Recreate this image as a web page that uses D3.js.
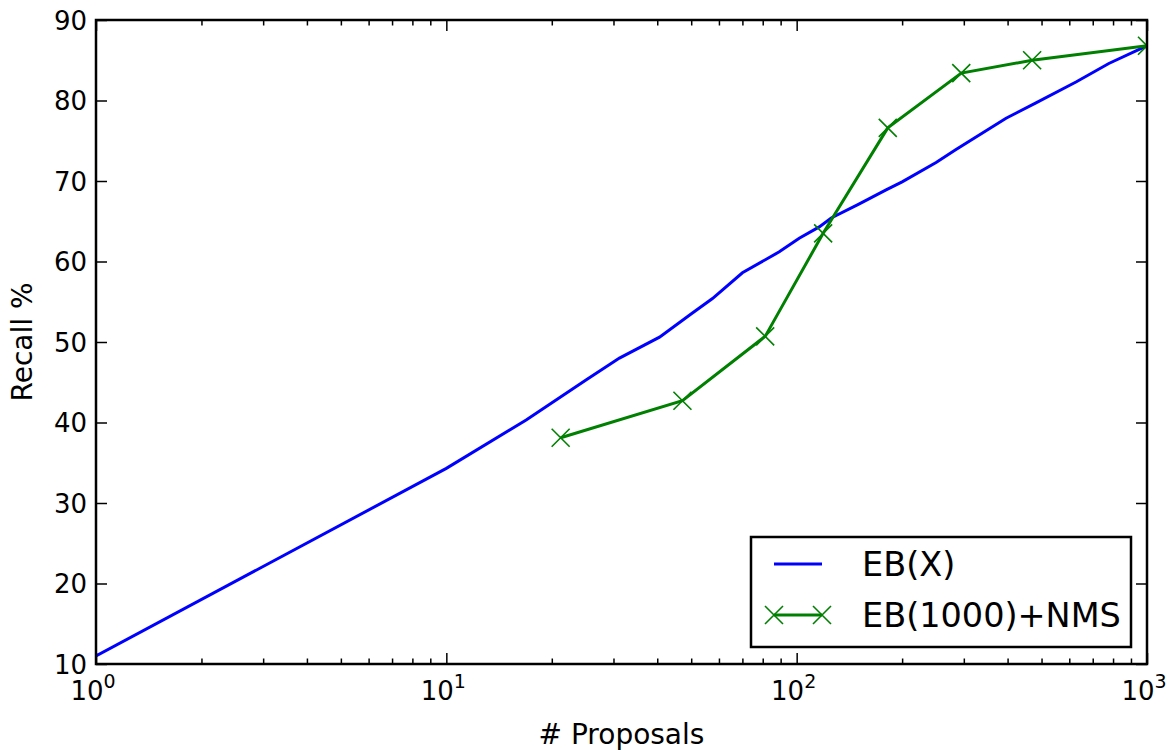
<!DOCTYPE html>
<html>
<head>
<meta charset="utf-8">
<script src="https://cdn.jsdelivr.net/npm/d3@7"></script>
<style>
  body { margin: 0; background: #fff; }
  svg { font-family: "DejaVu Sans", sans-serif; }
</style>
</head>
<body>
<svg width="1174" height="750"></svg>
<script>
// **** Data ****

var ebxProposals = [1, 10, 16.9, 25.1, 31.2, 40.6, 50.4, 57.5, 70, 89.2, 101.7, 116, 125.5, 150, 180, 200, 250, 285, 396, 482, 627, 778, 967, 1000];
var ebxRecall = [11.0, 34.3, 40.3, 45.3, 48.0, 50.6, 53.6, 55.4, 58.6, 61.2, 62.9, 64.3, 65.4, 67.1, 68.9, 69.9, 72.3, 73.9, 77.8, 79.7, 82.3, 84.6, 86.5, 86.8];

var nmsProposals = [21.2, 47.2, 81.3, 119, 182, 295, 470, 1000];
var nmsRecall = [38.1, 42.7, 50.7, 63.5, 76.6, 83.4, 85.0, 86.8];

var xMajorTicks = [1, 10, 100, 1000];
var xTickExponents = ["0", "1", "2", "3"];
var yTicks = [10, 20, 30, 40, 50, 60, 70, 80, 90];

var seriesNames = ["EB(X)", "EB(1000)+NMS"];
var seriesColors = ["#0000ff", "#008000"];

// **** Scales ****

var plotLeft = 96, plotRight = 1147, plotTop = 20, plotBottom = 664;

var xScale = d3.scaleLog().domain([1, 1000]).range([plotLeft, plotRight]);
var yScale = d3.scaleLinear().domain([10, 90]).range([plotBottom, plotTop]);

var xMinorTicks = [];
[1, 10, 100].forEach(function(d) {
    for (var k = 2; k <= 9; k++) xMinorTicks.push(d * k);
});

var svg = d3.select('svg');

// **** Axes (ticks point inward, on all four sides) ****

function styleAxis(g) {
    g.select('.domain').remove();
    g.selectAll('.tick line').attr('stroke', '#000').attr('stroke-width', 1.5);
}

svg.append('g').attr('transform', `translate(0,${plotBottom})`)
    .call(d3.axisBottom(xScale).tickValues(xMajorTicks).tickSize(-11).tickFormat(''))
    .call(styleAxis);
svg.append('g').attr('transform', `translate(0,${plotBottom})`)
    .call(d3.axisBottom(xScale).tickValues(xMinorTicks).tickSize(-5.5).tickFormat(''))
    .call(styleAxis);
svg.append('g').attr('transform', `translate(0,${plotTop})`)
    .call(d3.axisTop(xScale).tickValues(xMajorTicks).tickSize(-11).tickFormat(''))
    .call(styleAxis);
svg.append('g').attr('transform', `translate(0,${plotTop})`)
    .call(d3.axisTop(xScale).tickValues(xMinorTicks).tickSize(-5.5).tickFormat(''))
    .call(styleAxis);
svg.append('g').attr('transform', `translate(${plotLeft},0)`)
    .call(d3.axisLeft(yScale).tickValues(yTicks).tickSize(-11).tickFormat(''))
    .call(styleAxis);
svg.append('g').attr('transform', `translate(${plotRight},0)`)
    .call(d3.axisRight(yScale).tickValues(yTicks).tickSize(-11).tickFormat(''))
    .call(styleAxis);

// tick labels
svg.append('g').selectAll('text')
    .data(yTicks)
    .enter().append('text')
    .attr('x', plotLeft - 9)
    .attr('y', d => yScale(d) + 9.5)
    .attr('text-anchor', 'end')
    .style('font-size', '26px')
    .text(d => d);

var xLabels = svg.append('g').selectAll('text')
    .data(xMajorTicks)
    .enter().append('text')
    .attr('x', d => xScale(d) - 3)
    .attr('y', 700)
    .attr('text-anchor', 'middle')
    .style('font-size', '26px');
xLabels.append('tspan').text('10');
xLabels.append('tspan')
    .attr('dy', -12)
    .style('font-size', '19px')
    .text((d, i) => xTickExponents[i]);

svg.append('text')
    .attr('x', (plotLeft + plotRight) / 2)
    .attr('y', 744)
    .attr('text-anchor', 'middle')
    .style('font-size', '28px')
    .text('# Proposals');

svg.append('text')
    .attr('transform', 'translate(32,342) rotate(-90)')
    .attr('text-anchor', 'middle')
    .style('font-size', '28px')
    .text('Recall %');

// **** Lines ****

svg.append('clipPath').attr('id', 'plot-clip')
    .append('rect')
    .attr('x', plotLeft).attr('y', plotTop)
    .attr('width', plotRight - plotLeft).attr('height', plotBottom - plotTop);

var plot = svg.append('g').attr('clip-path', 'url(#plot-clip)');

var line = d3.line()
    .x(d => xScale(d[0]))
    .y(d => yScale(d[1]));

var ebx = ebxProposals.map((p, i) => [p, ebxRecall[i]]);
var nms = nmsProposals.map((p, i) => [p, nmsRecall[i]]);

plot.append('path')
    .datum(ebx)
    .attr('d', line)
    .attr('fill', 'none')
    .attr('stroke', seriesColors[0])
    .attr('stroke-width', 3);

plot.append('path')
    .datum(nms)
    .attr('d', line)
    .attr('fill', 'none')
    .attr('stroke', seriesColors[1])
    .attr('stroke-width', 3);

var xMarker = 'M-9,-9L9,9M-9,9L9,-9';

plot.selectAll('.marker')
    .data(nms)
    .enter().append('path')
    .attr('class', 'marker')
    .attr('transform', d => `translate(${xScale(d[0])},${yScale(d[1])})`)
    .attr('d', xMarker)
    .attr('stroke', seriesColors[1])
    .attr('stroke-width', 1.6)
    .attr('fill', 'none');

// axes frame
svg.append('rect')
    .attr('x', plotLeft).attr('y', plotTop)
    .attr('width', plotRight - plotLeft).attr('height', plotBottom - plotTop)
    .attr('fill', 'none')
    .attr('stroke', '#000')
    .attr('stroke-width', 2.5);

// **** Legend ****

var legend = svg.append('g');
legend.append('rect')
    .attr('x', 751).attr('y', 537)
    .attr('width', 380).attr('height', 110)
    .attr('fill', '#fff')
    .attr('stroke', '#000')
    .attr('stroke-width', 2.5);

var rowY = [564, 615];

var rows = legend.selectAll('.row')
    .data(seriesNames)
    .enter().append('g')
    .attr('class', 'row')
    .attr('transform', (d, i) => `translate(0,${rowY[i]})`);

rows.append('line')
    .attr('x1', 774).attr('x2', 822)
    .attr('stroke', (d, i) => seriesColors[i])
    .attr('stroke-width', 3);

rows.filter((d, i) => i === 1).selectAll('.lm')
    .data([774, 822])
    .enter().append('path')
    .attr('transform', d => `translate(${d},0)`)
    .attr('d', xMarker)
    .attr('stroke', seriesColors[1])
    .attr('stroke-width', 1.6)
    .attr('fill', 'none');

rows.append('text')
    .attr('x', 862)
    .attr('y', 11.5)
    .style('font-size', '33.5px')
    .text(d => d);
</script>
</body>
</html>
